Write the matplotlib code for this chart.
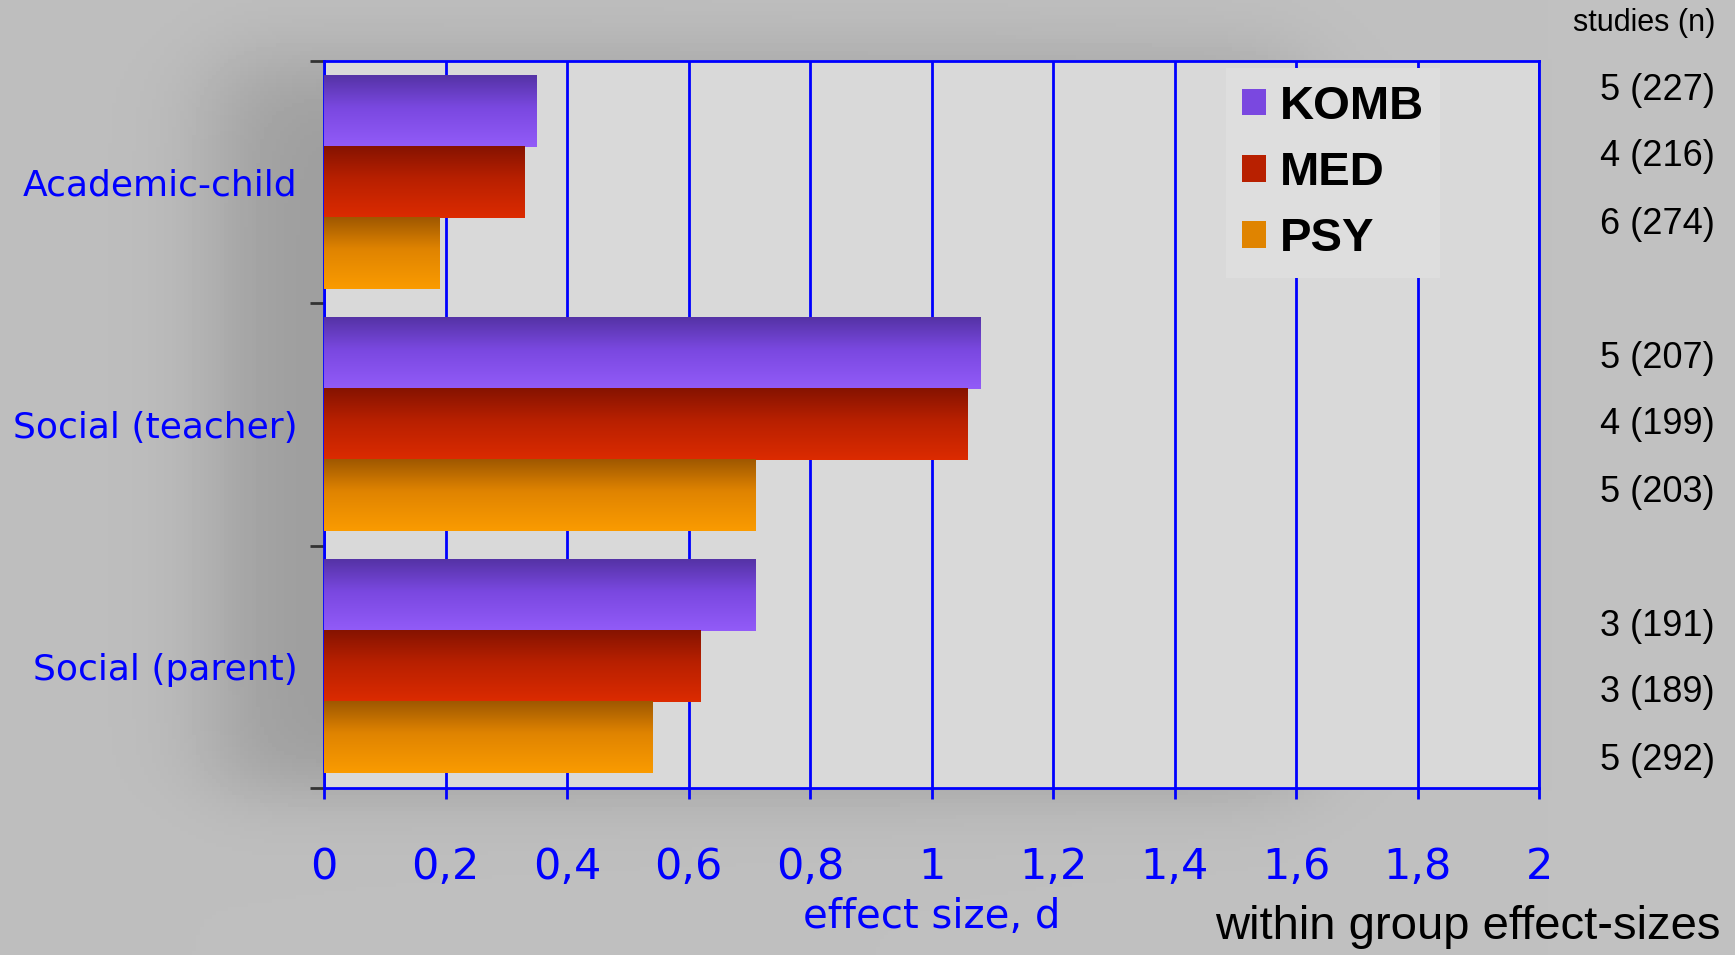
import numpy as np
import matplotlib
matplotlib.use("Agg")
import matplotlib.pyplot as plt
from matplotlib.patches import Patch
from matplotlib.colors import to_rgb

# Effect sizes per outcome and treatment group
outcomes = ["Academic-child", "Social (teacher)", "Social (parent)"]
groups = ["KOMB", "MED", "PSY"]
komb = [0.35, 1.08, 0.71]
med = [0.33, 1.06, 0.62]
psy = [0.19, 0.71, 0.54]
values = [komb, med, psy]

# Number of studies (participants) per outcome / group
study_counts = [
    ["5 (227)", "4 (216)", "6 (274)"],
    ["5 (207)", "4 (199)", "5 (203)"],
    ["3 (191)", "3 (189)", "5 (292)"],
]
xticks = [0, 0.2, 0.4, 0.6, 0.8, 1, 1.2, 1.4, 1.6, 1.8, 2]

# top / middle / bottom colours for the bar shading
shades = {
    "KOMB": ["#5533a6", "#7a48e0", "#925bf8"],
    "MED": ["#861300", "#b82000", "#dc2b00"],
    "PSY": ["#a05800", "#e08400", "#fa9b00"],
}

W, H = 1735, 955
fig = plt.figure(figsize=(W / 100, H / 100), dpi=100)


def soft_step(v, edge, width):
    return 0.5 * (1 + np.tanh((v - edge) / width))


# grey backdrop with a soft drop shadow behind the plot area
bg_ax = fig.add_axes([0, 0, 1, 1], zorder=-10)
px = np.arange(0, W, 4)
py = np.arange(0, H, 4)
PX, PY = np.meshgrid(px, py)
shadow = (soft_step(PX, 215, 60) * (1 - soft_step(PX, 1300, 60))
          * soft_step(PY, 60, 50) * (1 - soft_step(PY, 790, 40)))
bg = 0.745 - 0.13 * shadow + 0.01 * (PX / W)
bg_ax.imshow(bg, cmap="gray", vmin=0, vmax=1, aspect="auto", extent=[0, 1, 0, 1], origin="upper")
bg_ax.axis("off")

ax = fig.add_axes([324 / W, 1 - 788 / H, (1539 - 324) / W, (788 - 61) / H])
ax.set_facecolor("#d9d9d9")

bar_h = 0.293
y_centers = np.arange(len(outcomes))
for k, (name, vals) in enumerate(zip(groups, values)):
    ypos = y_centers + (k - 1) * bar_h
    bars = ax.barh(ypos, vals, height=bar_h, color=shades[name][1], zorder=2, linewidth=0)
    top, mid, bot = [np.array(to_rgb(c)) for c in shades[name]]
    t = np.linspace(0, 1, 64)[:, None]
    grad = np.where(t < 0.45, top + (mid - top) * (t / 0.45), mid + (bot - mid) * ((t - 0.45) / 0.55))
    grad = grad[:, None, :]
    for b in bars:
        y0, hgt, w = b.get_y(), b.get_height(), b.get_width()
        ax.imshow(grad, extent=[0, w, y0 + hgt, y0], aspect="auto", origin="upper",
                  interpolation="bilinear", zorder=3)

ax.set_xlim(0, 2)
ax.set_ylim(2.5, -0.5)

# axis styling
for sp in ax.spines.values():
    sp.set_color("#0000ff")
    sp.set_linewidth(2)
ax.set_axisbelow(True)
ax.xaxis.grid(True, color="#0000ff", linewidth=2)
ax.set_xticks(xticks)
ax.set_xticklabels([("%g" % v).replace(".", ",") for v in xticks],
                   color="#0000ff", fontsize=31, family="DejaVu Sans")
ax.tick_params(axis="x", colors="#0000ff", length=8, width=2, pad=34)

ax.set_yticks([-0.5, 0.5, 1.5, 2.5])
ax.set_yticklabels([])
ax.tick_params(axis="y", which="major", color="#333333", length=10, width=2)
ax.set_yticks(y_centers, minor=True)
ax.set_yticklabels(outcomes, minor=True, color="#0000ff", fontsize=26, family="DejaVu Sans")
ax.tick_params(axis="y", which="minor", length=0, pad=19)

ax.set_xlabel("effect size, d", color="#0000ff", fontsize=29, family="DejaVu Sans", labelpad=6)

handles = [Patch(facecolor=shades[g][1], edgecolor="none") for g in groups]
leg = ax.legend(handles, groups, loc="upper left", bbox_to_anchor=(0.742, 0.99),
                borderaxespad=0,
                prop={"family": "Liberation Sans", "weight": "bold", "size": 34},
                handlelength=0.5, handleheight=0.5, handletextpad=0.3,
                labelspacing=0.47, borderpad=0.35, frameon=True, fancybox=False)
leg.get_frame().set_facecolor("#dedede")
leg.get_frame().set_edgecolor("none")
leg.get_frame().set_alpha(1)

# right-hand annotation column
fig.text(1715 / W, 1 - 23 / H, "studies (n)", ha="right", va="center",
         fontsize=22, family="Liberation Sans", color="black")
label_rows = [[90, 157, 225], [358, 425, 492], [626, 693, 760]]
for rows, counts in zip(label_rows, study_counts):
    for yy, txt in zip(rows, counts):
        fig.text(1715 / W, 1 - yy / H, txt, ha="right", va="center",
                 fontsize=26, family="Liberation Sans", color="black")

fig.text(1721 / W, 6 / H, "within group effect-sizes", ha="right", va="bottom",
         fontsize=34, family="Liberation Sans", color="black")

fig.savefig("out.png", dpi=100)
